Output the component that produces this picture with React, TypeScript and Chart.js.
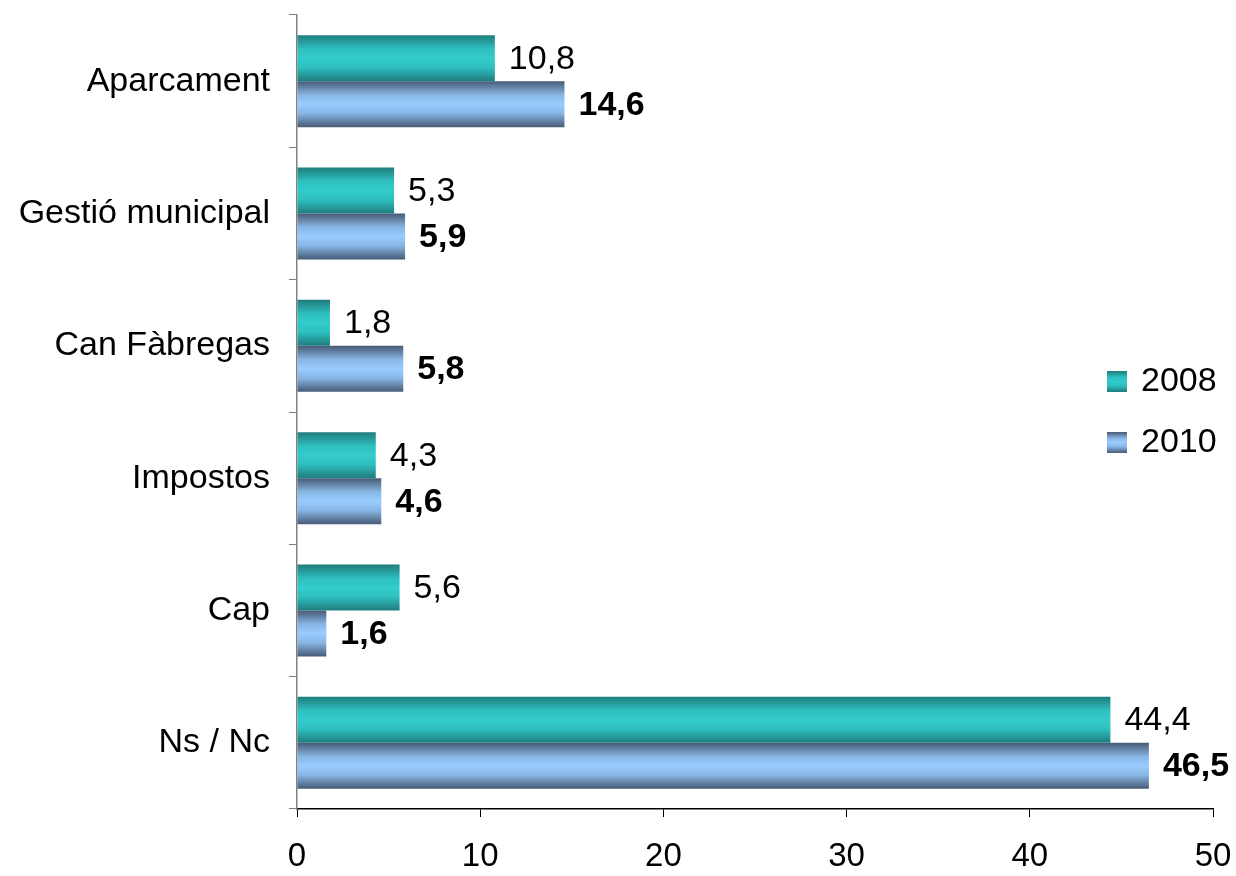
import React, { useEffect, useRef } from "react";
import { Chart, registerables } from "chart.js";

Chart.register(...registerables);

const categories = ["Aparcament", "Gestió municipal", "Can Fàbregas", "Impostos", "Cap", "Ns / Nc"];
const values2008 = [10.8, 5.3, 1.8, 4.3, 5.6, 44.4];
const values2010 = [14.6, 5.9, 5.8, 4.6, 1.6, 46.5];
const seriesNames = ["2008", "2010"];
const xTicks = [0, 10, 20, 30, 40, 50];

const FONT = "'Liberation Sans', Arial, Helvetica, sans-serif";

const gradStops: string[][] = [
  ["#1f7c7d", "#2fbfbf", "#33cccc", "#2fbfbf", "#1f7c7d"],
  ["#485a76", "#88b6e4", "#99ccff", "#88b6e4", "#485a76"],
];

function makeGrad(ctx: CanvasRenderingContext2D, top: number, bottom: number, stops: string[]) {
  const g = ctx.createLinearGradient(0, top, 0, bottom);
  const pos = [0, 0.3, 0.5, 0.7, 1];
  stops.forEach((c, i) => g.addColorStop(pos[i], c));
  return g;
}

const gradientPlugin = {
  id: "barGradient",
  beforeDatasetsDraw(chart: any) {
    const ctx = chart.ctx;
    chart.data.datasets.forEach((_ds: any, di: number) => {
      const meta = chart.getDatasetMeta(di);
      meta.data.forEach((el: any) => {
        const { y, height } = el.getProps(["y", "height"], true);
        const g = makeGrad(ctx, y - height / 2, y + height / 2, gradStops[di]);
        el.options = { ...el.options, backgroundColor: g };
      });
    });
  },
};

const labelPlugin = {
  id: "valueLabels",
  afterDatasetsDraw(chart: any) {
    const ctx = chart.ctx;
    ctx.save();
    ctx.fillStyle = "#000";
    ctx.textBaseline = "middle";
    ctx.textAlign = "left";
    chart.data.datasets.forEach((ds: any, di: number) => {
      const meta = chart.getDatasetMeta(di);
      ctx.font = (di === 1 ? "bold " : "") + "34px " + FONT;
      meta.data.forEach((el: any, i: number) => {
        const { x, y } = el.getProps(["x", "y"], true);
        const txt = ds.data[i].toFixed(1).replace(".", ",");
        ctx.fillText(txt, x + 14, y + 1);
      });
    });
    ctx.restore();
  },
};

const legendPlugin = {
  id: "customLegend",
  afterDraw(chart: any) {
    const ctx = chart.ctx;
    ctx.save();
    const items = [
      { y: 381, di: 0 },
      { y: 442, di: 1 },
    ];
    items.forEach((it) => {
      const top = it.y - 10;
      ctx.fillStyle = makeGrad(ctx, top, top + 21, gradStops[it.di]);
      ctx.fillRect(1107, top, 20, 21);
      ctx.fillStyle = "#000";
      ctx.font = "34px " + FONT;
      ctx.textBaseline = "middle";
      ctx.textAlign = "left";
      ctx.fillText(seriesNames[it.di], 1141, it.y + 1);
    });
    ctx.restore();
  },
};

export default function App() {
  const ref = useRef<HTMLCanvasElement | null>(null);
  useEffect(() => {
    if (!ref.current) return;
    const chart = new Chart(ref.current, {
      type: "bar",
      data: {
        labels: categories,
        datasets: [
          { label: seriesNames[0], data: values2008, backgroundColor: "#33cccc", borderWidth: 0 },
          { label: seriesNames[1], data: values2010, backgroundColor: "#99ccff", borderWidth: 0 },
        ],
      },
      options: {
        indexAxis: "y",
        responsive: false,
        devicePixelRatio: 1,
        animation: false,
        datasets: { bar: { categoryPercentage: 0.695, barPercentage: 1.0 } },
        layout: { padding: { left: 0, right: 23, top: 15, bottom: 0 } },
        plugins: {
          legend: { display: false },
          tooltip: { enabled: false },
        },
        scales: {
          x: {
            min: 0,
            max: 50,
            afterBuildTicks: (scale: any) => {
              scale.ticks = xTicks.map((v) => ({ value: v }));
            },
            afterFit: (scale: any) => {
              scale.height = 67;
              scale.paddingLeft = 0;
              scale.paddingRight = 0;
            },
            grid: {
              drawOnChartArea: false,
              drawTicks: true,
              tickLength: 8,
              color: "#000",
              lineWidth: 1,
            },
            border: { color: "#000", width: 1.5 },
            ticks: {
              color: "#000",
              padding: 20,
              font: { family: FONT, size: 33 },
            },
          },
          y: {
            afterFit: (scale: any) => {
              scale.width = 297;
              scale.paddingTop = 0;
              scale.paddingBottom = 0;
            },
            grid: {
              offset: true,
              drawOnChartArea: false,
              drawTicks: true,
              tickLength: 8,
              color: "#808080",
              lineWidth: 1,
            },
            border: { color: "#808080", width: 1.5 },
            ticks: {
              color: "#000",
              padding: 19,
              font: { family: FONT, size: 34 },
            },
          },
        },
      },
      plugins: [gradientPlugin, labelPlugin, legendPlugin],
    } as any);
    return () => chart.destroy();
  }, []);
  return (
    <div style={{ position: "fixed", left: 0, top: 0, width: 1236, height: 876, background: "#fff" }}>
      <canvas ref={ref} width={1236} height={876} style={{ width: 1236, height: 876 }} />
    </div>
  );
}
